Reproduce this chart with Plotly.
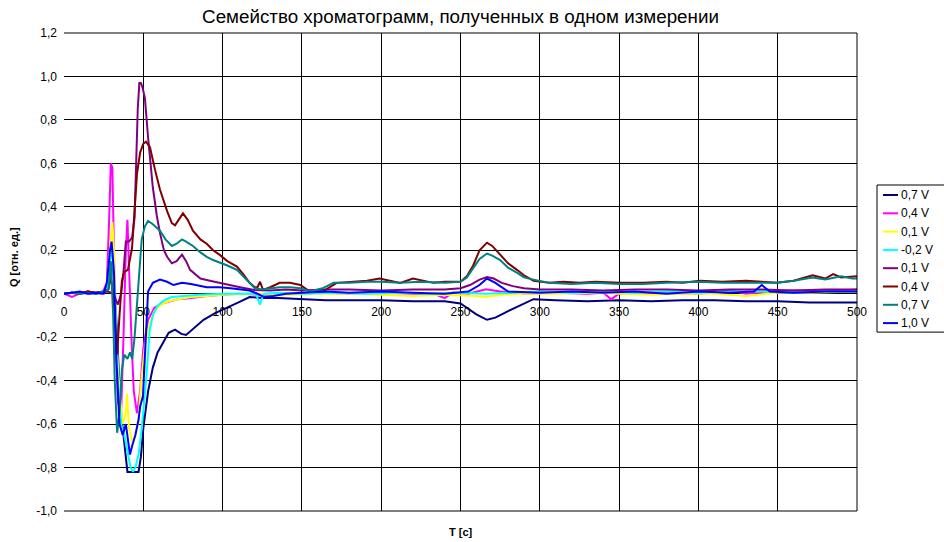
import plotly.graph_objects as go

# ---- chromatogram family: time T [s] and signal Q [rel. units] ----
t_navy = [0, 5, 10, 15, 20, 25, 27, 29, 30.5, 32,
          33, 34.5, 36, 38, 40, 44, 47, 48.5, 50, 53,
          56, 59, 62, 66, 70, 74, 77, 82, 88, 95,
          103, 110, 117, 125, 135, 150, 165, 180, 200, 220,
          240, 250, 255, 260, 266.7, 272, 280, 290, 296, 310,
          330, 350, 370, 390, 410, 430, 450, 470, 490, 500]
q_navy = [0.0, 0.005, 0.0, 0.01, 0.005, 0.01, 0.03, 0.1, 0.14, 0.03,
          -0.15, -0.35, -0.55, -0.7, -0.82, -0.82, -0.82, -0.75, -0.62, -0.45,
          -0.34, -0.27, -0.23, -0.18, -0.165, -0.185, -0.19, -0.16, -0.12, -0.09,
          -0.065, -0.04, -0.015, -0.02, -0.02, -0.025, -0.03, -0.03, -0.03, -0.035,
          -0.035, -0.045, -0.07, -0.095, -0.12, -0.11, -0.08, -0.045, -0.025, -0.03,
          -0.035, -0.03, -0.035, -0.03, -0.03, -0.035, -0.035, -0.04, -0.04, -0.04]

t_mag = [0, 3, 5, 8, 12, 16, 20, 24, 27, 28.5,
         29.5, 30.5, 31.5, 32.5, 34, 36, 37.5, 39, 40, 41,
         42.5, 44, 46, 48, 50, 53, 57, 62, 67, 72,
         80, 90, 100, 110, 125, 140, 160, 180, 200, 220,
         235, 240, 245, 255, 266, 275, 290, 310, 330, 340,
         345, 350, 370, 400, 420, 430, 445, 460, 480, 500]
q_mag = [0.0, -0.01, -0.015, -0.005, 0.005, 0.0, 0.005, 0.0, 0.05, 0.35,
         0.6, 0.58, 0.2, -0.2, -0.5, -0.55, -0.2, 0.2, 0.34, 0.1,
         -0.2, -0.45, -0.55, -0.45, -0.25, -0.12, -0.065, -0.045, -0.035, -0.025,
         -0.02, -0.01, -0.005, 0.0, -0.005, 0.0, 0.005, 0.0, 0.005, 0.0,
         -0.005, -0.02, 0.005, 0.0, 0.02, 0.01, 0.0, 0.005, 0.0, 0.005,
         -0.025, 0.0, 0.005, 0.0, 0.015, 0.0, 0.01, 0.015, 0.01, 0.02]

t_yel = [0, 5, 10, 15, 20, 25, 27, 29, 30.5, 31.5,
         33, 35, 37, 39, 39.7, 41, 43, 45, 47, 48.5,
         50, 51, 54, 57, 61, 66, 72, 80, 90, 100,
         120, 140, 160, 180, 200, 220, 240, 260, 266, 275,
         290, 310, 330, 350, 370, 390, 410, 430, 450, 470,
         490, 500]
q_yel = [0.0, 0.005, 0.0, 0.005, 0.0, 0.005, 0.03, 0.2, 0.33, 0.2,
         -0.2, -0.45, -0.6, -0.55, -0.46, -0.62, -0.68, -0.66, -0.58, -0.42,
         -0.3, -0.24, -0.14, -0.08, -0.05, -0.035, -0.025, -0.015, -0.01, -0.005,
         0.0, -0.005, 0.0, 0.0, -0.005, -0.01, -0.005, -0.01, -0.015, -0.005,
         0.0, 0.0, 0.005, 0.0, -0.005, 0.0, 0.0, -0.01, 0.005, 0.005,
         0.01, 0.01]

t_cyan = [0, 5, 10, 15, 20, 25, 27, 29, 30.5, 32,
          34, 36, 38, 40, 42, 43.5, 45, 47, 49, 50.5,
          52, 54, 56, 59, 63, 68, 75, 85, 100, 115,
          121, 123.5, 126, 135, 150, 170, 190, 210, 230, 250,
          266, 280, 300, 320, 340, 360, 380, 400, 420, 440,
          460, 480, 500]
q_cyan = [0.0, 0.005, 0.0, 0.005, 0.0, 0.005, 0.02, 0.15, 0.2, 0.0,
          -0.4, -0.6, -0.65, -0.72, -0.8, -0.82, -0.8, -0.74, -0.62, -0.5,
          -0.38, -0.17, -0.1, -0.055, -0.03, -0.015, -0.01, -0.005, 0.0, 0.0,
          0.0, -0.05, 0.0, 0.005, 0.0, 0.005, 0.0, 0.005, 0.0, 0.005,
          0.0, 0.005, 0.01, 0.005, 0.01, 0.005, 0.01, 0.005, 0.01, 0.01,
          0.005, 0.01, 0.01]

t_pur = [0, 5, 10, 15, 20, 25, 28, 31, 34, 36,
         37.5, 39, 41, 43, 44.5, 45.5, 46.5, 47.5, 48.5, 49.5,
         51, 53, 56, 58.5, 60.5, 63, 65, 68, 71, 74.4,
         77, 79.5, 86, 92, 98, 105, 111, 120, 130, 140,
         150, 165, 180, 200, 220, 240, 250, 256, 262, 266.7,
         271, 276, 283, 290, 300, 320, 340, 360, 380, 400,
         420, 440, 460, 480, 500]
q_pur = [0.0, 0.005, 0.0, 0.01, 0.0, 0.005, 0.01, 0.0, -0.05, 0.0,
         0.1, 0.24, 0.24, 0.26, 0.35, 0.6, 0.85, 0.97, 0.97, 0.95,
         0.9, 0.72, 0.49, 0.36, 0.28, 0.2, 0.17, 0.14, 0.15, 0.18,
         0.15, 0.11, 0.07, 0.06, 0.05, 0.04, 0.03, 0.017, 0.015, 0.02,
         0.015, 0.02, 0.02, 0.015, 0.02, 0.02, 0.025, 0.04, 0.065, 0.077,
         0.07, 0.05, 0.035, 0.025, 0.02, 0.02, 0.015, 0.02, 0.02, 0.015,
         0.02, 0.02, 0.015, 0.02, 0.02]

t_red = [0, 5, 10, 15, 20, 25, 28, 29.5, 31, 32.5,
         33.5, 35, 36.5, 38, 40.3, 42.9, 44.5, 46, 48, 50,
         51.7, 54.2, 57.4, 60.5, 65, 68, 70, 72.5, 75, 78,
         81.3, 86, 90, 94, 98, 103, 109, 113, 117, 120.4,
         122, 123.6, 125.5, 130, 136, 142.5, 149, 155, 163, 172,
         180, 191, 199, 205, 212, 220, 226, 233, 240, 250,
         254, 258, 262, 266.7, 270, 275, 280, 285.6, 290, 296,
         306, 315, 325, 335, 350.5, 365, 380, 390, 401, 415,
         430, 440, 449.5, 460, 472, 480, 485, 490, 497, 500]
q_red = [0.0, 0.005, 0.0, 0.01, 0.005, 0.01, 0.02, 0.08, 0.0, -0.2,
         -0.28, -0.1, 0.06, 0.1, 0.11, 0.21, 0.38, 0.55, 0.65, 0.69,
         0.70, 0.675, 0.57, 0.48, 0.38, 0.325, 0.315, 0.34, 0.37, 0.34,
         0.29, 0.25, 0.23, 0.2, 0.18, 0.15, 0.125, 0.09, 0.05, 0.03,
         0.03, 0.055, 0.017, 0.03, 0.05, 0.05, 0.04, 0.01, 0.01, 0.05,
         0.055, 0.06, 0.07, 0.06, 0.05, 0.07, 0.06, 0.05, 0.055, 0.055,
         0.08, 0.13, 0.2, 0.235, 0.22, 0.18, 0.14, 0.11, 0.085, 0.06,
         0.05, 0.055, 0.05, 0.055, 0.05, 0.05, 0.055, 0.05, 0.06, 0.055,
         0.06, 0.055, 0.05, 0.06, 0.085, 0.07, 0.09, 0.075, 0.08, 0.08]

t_teal = [0, 5, 10, 15, 20, 25, 28, 29.5, 31, 32,
          33.5, 35, 36.5, 38, 40, 41.6, 43, 44.5, 46, 46.7,
          48, 49, 51, 53, 56, 60.5, 64, 68, 71, 74.4,
          77, 81.3, 86, 90, 94, 98, 103, 109, 113, 117,
          120.4, 125, 130, 136, 142.5, 149, 155, 163, 170, 180,
          191, 200, 212, 225, 240, 250, 254, 258, 262, 266.7,
          270, 275, 280, 286, 290, 296, 306, 320, 335, 350,
          365, 380, 400, 415, 430, 449.5, 460, 472, 480, 490,
          497, 500]
q_teal = [0.0, 0.005, 0.0, 0.005, 0.0, 0.01, 0.02, 0.15, -0.1, -0.4,
          -0.64, -0.55, -0.35, -0.28, -0.3, -0.27, -0.3, -0.2, -0.05, 0.03,
          0.15, 0.25, 0.31, 0.335, 0.32, 0.29, 0.25, 0.22, 0.23, 0.25,
          0.24, 0.22, 0.19, 0.17, 0.155, 0.145, 0.13, 0.11, 0.08, 0.05,
          0.025, 0.02, 0.025, 0.03, 0.03, 0.025, 0.01, 0.025, 0.05, 0.05,
          0.055, 0.055, 0.05, 0.055, 0.05, 0.055, 0.075, 0.12, 0.16, 0.185,
          0.175, 0.155, 0.12, 0.095, 0.075, 0.065, 0.05, 0.045, 0.05, 0.045,
          0.045, 0.05, 0.055, 0.05, 0.05, 0.05, 0.06, 0.075, 0.065, 0.08,
          0.07, 0.07]

t_blue = [0, 5, 10, 15, 20, 25, 27, 29, 30, 31.5,
          33, 35, 37, 39, 41.6, 43, 45, 47, 48, 49.8,
          50.8, 52, 53, 56, 60.5, 65, 69, 74.4, 80, 90,
          98, 105, 111, 117, 122, 126, 132, 140, 150, 165,
          180, 200, 220, 240, 255, 262, 266.7, 272, 280, 300,
          320, 340, 360, 380, 400, 420, 435, 440, 445, 460,
          480, 500]
q_blue = [0.0, 0.005, 0.01, 0.0, 0.005, 0.0, 0.05, 0.2, 0.24, 0.1,
          -0.3, -0.6, -0.65, -0.6, -0.74, -0.7, -0.65, -0.58, -0.52, -0.47,
          -0.3, -0.09, 0.01, 0.05, 0.065, 0.055, 0.04, 0.05, 0.045, 0.03,
          0.03, 0.025, 0.02, 0.015, 0.0, -0.015, -0.01, 0.0, 0.005, 0.01,
          0.005, 0.01, 0.005, 0.0, 0.01, 0.04, 0.07, 0.05, 0.01, 0.005,
          0.01, 0.005, 0.01, 0.0, 0.01, 0.005, 0.01, 0.04, 0.01, 0.005,
          0.01, 0.01]

series_names = ["0,7 V", "0,4 V", "0,1 V", "-0,2 V", "0,1 V", "0,4 V", "0,7 V", "1,0 V"]
series_colors = ["#000080", "#FF00FF", "#FFFF00", "#00FFFF",
                 "#800080", "#800000", "#008080", "#0000FF"]
series_t = [t_navy, t_mag, t_yel, t_cyan, t_pur, t_red, t_teal, t_blue]
series_q = [q_navy, q_mag, q_yel, q_cyan, q_pur, q_red, q_teal, q_blue]

y_ticks = [-1.0, -0.8, -0.6, -0.4, -0.2, 0.0, 0.2, 0.4, 0.6, 0.8, 1.0, 1.2]
y_ticktext = ["-1,0", "-0,8", "-0,6", "-0,4", "-0,2", "0,0",
              "0,2", "0,4", "0,6", "0,8", "1,0", "1,2"]
x_ticks = [0, 50, 100, 150, 200, 250, 300, 350, 400, 450, 500]

FONT = "Liberation Sans, Arial, sans-serif"

# plot area in pixels: left 64, right 857, top 33, bottom 511
W, H = 944, 542
L, R, T, B = 64, 857, 33, 511
pw, ph = R - L, B - T


def px_x(px):
    return (px - L) / pw


def px_y(py):
    return (B - py) / ph


fig = go.Figure()
for name, color, t, q in zip(series_names, series_colors, series_t, series_q):
    fig.add_trace(go.Scatter(x=t, y=q, mode="lines", name=name,
                             line=dict(color=color, width=2), showlegend=False))

# frame lines on the plot edges (top, bottom, right)
shapes = [
    dict(type="line", xref="paper", yref="paper", x0=0, x1=1, y0=1, y1=1,
         line=dict(color="black", width=1)),
    dict(type="line", xref="paper", yref="paper", x0=0, x1=1, y0=0, y1=0,
         line=dict(color="black", width=1)),
    dict(type="line", xref="paper", yref="paper", x0=1, x1=1, y0=0, y1=1,
         line=dict(color="black", width=1)),
]

# legend box with one line sample and label per series
leg_left, leg_top, leg_step = 877, 185, 18.3
leg_bottom = leg_top + 10 + leg_step * (len(series_names) - 1) + 9
shapes.append(dict(type="rect", xref="paper", yref="paper",
                   x0=px_x(leg_left), x1=px_x(946), y0=px_y(leg_top), y1=px_y(leg_bottom),
                   line=dict(color="black", width=1), fillcolor="white", layer="above"))
annotations = []
for i, (name, color) in enumerate(zip(series_names, series_colors)):
    yc = leg_top + 10 + leg_step * i
    shapes.append(dict(type="line", xref="paper", yref="paper",
                       x0=px_x(883), x1=px_x(898), y0=px_y(yc), y1=px_y(yc),
                       line=dict(color=color, width=2), layer="above"))
    annotations.append(dict(text=name, xref="paper", yref="paper",
                            x=px_x(899), y=px_y(yc), xanchor="left", yanchor="middle",
                            showarrow=False, font=dict(family=FONT, size=12, color="black")))

annotations += [
    dict(text="<b>Q [отн. ед.]</b>", xref="paper", yref="paper",
         x=px_x(14), y=px_y(257), textangle=-90, showarrow=False,
         font=dict(family=FONT, size=11), xanchor="center", yanchor="middle"),
    dict(text="<b>T [c]</b>", xref="paper", yref="paper",
         x=0.5, y=px_y(532), showarrow=False,
         font=dict(family=FONT, size=11), xanchor="center", yanchor="middle"),
]

y_min, y_max = -1.0, 1.2
fig.update_layout(
    width=W, height=H,
    margin=dict(l=L, r=W - R, t=T, b=H - B, autoexpand=False),
    paper_bgcolor="white", plot_bgcolor="white",
    font=dict(family=FONT, size=12, color="black"),
    title=dict(text="Семейство хроматограмм, полученных в одном измерении",
               x=(L + R) / 2 / W, xanchor="center", y=1 - 16 / H, yanchor="middle",
               font=dict(family=FONT, size=18.8, color="black")),
    showlegend=False,
    xaxis=dict(range=[0, 500], tickvals=x_ticks, showgrid=True, gridcolor="black",
               gridwidth=1, zeroline=False, showline=False, ticks="",
               anchor="free", position=(0 - y_min) / (y_max - y_min),
               ticklabelstandoff=9, tickfont=dict(family=FONT, size=12)),
    yaxis=dict(range=[y_min, y_max], tickvals=y_ticks, ticktext=y_ticktext,
               showgrid=True, gridcolor="black", gridwidth=1, zeroline=False,
               showline=False, ticks="", ticklabelstandoff=6,
               tickfont=dict(family=FONT, size=12)),
    shapes=shapes,
    annotations=annotations,
)

fig.write_html("out.html")
